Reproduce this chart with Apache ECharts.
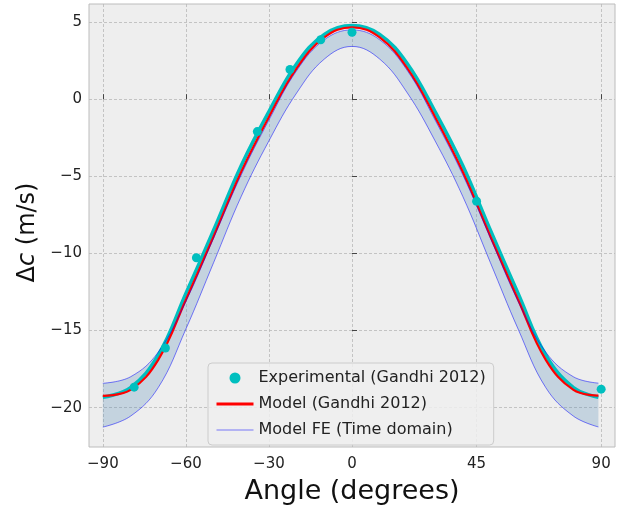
<!DOCTYPE html>
<html>
<head>
<meta charset="utf-8">
<script src="https://cdn.jsdelivr.net/npm/echarts@6/dist/echarts.min.js"></script>
<style>
  html, body { margin: 0; padding: 0; background: #fff; }
  #cht { width: 621px; height: 510px; }
</style>
</head>
<body>
<div id="cht"></div>
<script>
// model curves
var angles = [-90, -80, -70, -60, -50, -40, -30, -20, -10, 0, 10, 20, 30, 40, 50, 60, 70, 80, 89];
var modelGandhi = [-19.23, -18.85, -16.9, -13.0, -8.9, -4.7, -1.15, 2.0, 4.0, 4.66, 4.0, 2.0, -1.15, -4.7, -8.9, -13.0, -16.9, -18.85, -19.22];
var fitCyan = [-19.33, -18.7, -16.6, -12.6, -8.5, -4.3, -0.8, 2.3, 4.2, 4.77, 4.2, 2.3, -0.8, -4.3, -8.5, -12.6, -16.6, -18.7, -19.32];
var feUpper = [-18.42, -18.0, -16.4, -13.1, -9.0, -4.9, -1.35, 1.85, 3.85, 4.49, 3.85, 1.85, -1.35, -4.9, -9.0, -13.1, -16.4, -18.0, -18.41];
var feLower = [-21.26, -20.55, -18.7, -14.9, -10.6, -6.3, -2.7, 0.4, 2.6, 3.42, 2.6, 0.4, -2.7, -6.3, -10.6, -14.9, -18.7, -20.55, -21.25];

// experimental points
var expAngles = [-78.7, -67.4, -56.2, -34.2, -22.4, -11.3, 0, 45, 90];
var expValues = [-18.67, -16.13, -10.28, -2.1, 1.92, 3.85, 4.34, -6.62, -18.8];

var xTicks = [-90, -60, -30, 0, 45, 90];
var yTicks = [-20, -15, -10, -5, 0, 5];

function pairs(xs, ys) {
    return xs.map(function (x, i) { return [x, ys[i]]; });
}
// value first, angle second, so that stacking happens on the value
function flipped(xs, ys) {
    return xs.map(function (x, i) { return [ys[i], x]; });
}
function minus(v) {
    return v < 0 ? '\u2212' + Math.abs(v) : String(v);
}

var gridLine = { show: true, lineStyle: { color: '#b8b8b8', type: [3, 2], width: 0.8 } };
var tick = { show: true, inside: true, length: 5, lineStyle: { color: '#444' } };
var bandWidth = feUpper.map(function (v, i) { return v - feLower[i]; });

var config = {
    backgroundColor: '#fff',
    animation: false,
    textStyle: { fontFamily: 'DejaVu Sans' },
    grid: {
        left: 89, right: 6, top: 4, bottom: 58,
        show: true, backgroundColor: '#eeeeee', borderColor: '#bcbcbc', borderWidth: 1
    },
    legend: {
        orient: 'vertical',
        left: 208, top: 363,
        padding: [7, 8, 7, 7],
        itemGap: 10,
        itemWidth: 37, itemHeight: 11,
        backgroundColor: 'rgba(238,238,238,0.85)',
        borderColor: '#cccccc', borderWidth: 1, borderRadius: 4,
        textStyle: { fontSize: 16, color: '#222', fontFamily: 'DejaVu Sans' },
        data: [
            { name: 'Experimental (Gandhi 2012)', icon: 'circle' },
            { name: 'Model (Gandhi 2012)', itemStyle: { opacity: 0 }, lineStyle: { width: 3 } },
            { name: 'Model FE (Time domain)', itemStyle: { opacity: 0 }, lineStyle: { width: 1 } }
        ]
    },
    xAxis: {
        type: 'value', min: -95, max: 95,
        name: 'Angle (degrees)', nameLocation: 'middle', nameGap: 31,
        nameTextStyle: { fontSize: 27, color: '#111' },
        axisLine: { show: false },
        axisTick: Object.assign({ customValues: xTicks }, tick),
        axisLabel: { customValues: xTicks, fontSize: 15, color: '#222', margin: 10, formatter: minus },
        splitLine: gridLine
    },
    yAxis: {
        type: 'value', min: -22.55, max: 6.17,
        name: '\u0394{i|c} (m/s)', nameLocation: 'middle', nameGap: 39,
        nameTextStyle: {
            fontSize: 24, color: '#111', padding: [0, 14, 0, 0],
            rich: { i: { fontSize: 24, fontStyle: 'italic', color: '#111' } }
        },
        axisLine: { show: false },
        axisTick: Object.assign({ customValues: yTicks }, tick),
        axisLabel: { customValues: yTicks, fontSize: 15, color: '#222', margin: 7, formatter: minus },
        splitLine: gridLine
    },
    series: [
        {
            name: 'band base', type: 'line', stack: 'band', stackStrategy: 'all',
            data: flipped(angles, feLower), encode: { x: 1, y: 0 },
            smooth: 0.4, symbol: 'none', lineStyle: { opacity: 0 }, silent: true
        },
        {
            name: 'band', type: 'line', stack: 'band', stackStrategy: 'all',
            data: flipped(angles, bandWidth), encode: { x: 1, y: 0 },
            smooth: 0.4, symbol: 'none', lineStyle: { opacity: 0 },
            areaStyle: { color: 'rgba(70,130,180,0.25)', opacity: 1 }, silent: true
        },
        {
            name: 'fit', type: 'line', data: pairs(angles, fitCyan), smooth: 0.4, symbol: 'none',
            lineStyle: { color: '#00bfbf', width: 3.5 }
        },
        {
            name: 'Model (Gandhi 2012)', type: 'line', data: pairs(angles, modelGandhi), smooth: 0.4, symbol: 'none',
            color: '#ff0000', lineStyle: { color: '#ff0000', width: 2.2 }
        },
        {
            name: 'Model FE (Time domain)', type: 'line', data: pairs(angles, feUpper), smooth: 0.4, symbol: 'none',
            color: 'rgba(0,0,255,0.5)', lineStyle: { color: 'rgba(0,0,255,0.5)', width: 1 }
        },
        {
            name: 'Model FE (Time domain)', type: 'line', data: pairs(angles, feLower), smooth: 0.4, symbol: 'none',
            color: 'rgba(0,0,255,0.5)', lineStyle: { color: 'rgba(0,0,255,0.5)', width: 1 }
        },
        {
            name: 'Experimental (Gandhi 2012)', type: 'scatter', data: pairs(expAngles, expValues),
            symbolSize: 9, itemStyle: { color: '#00bfbf', opacity: 1 }, z: 5
        }
    ]
};

window.onload = function () {
    var myChart = echarts.init(document.getElementById('cht'));
    myChart.setOption(config);
};
</script>
</body>
</html>
